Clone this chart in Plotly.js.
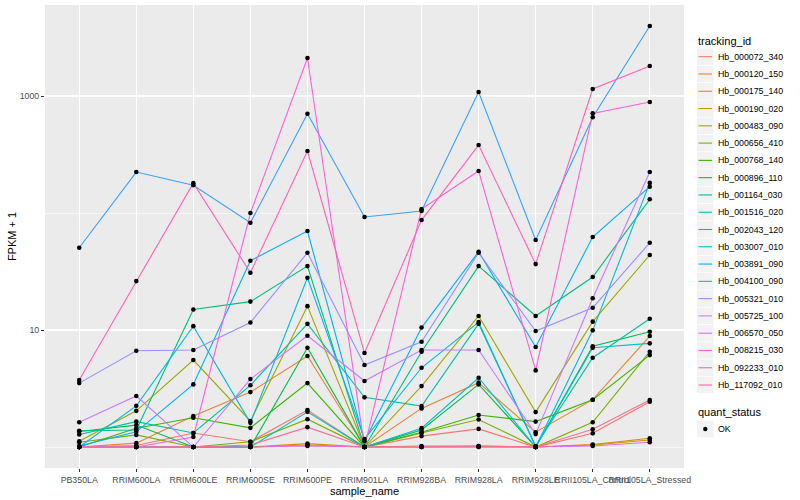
<!DOCTYPE html>
<html><head><meta charset="utf-8">
<script src="https://cdn.plot.ly/plotly-3.0.1.min.js"></script>
<style>html,body{margin:0;padding:0;background:#fff}</style>
</head><body><div id="chart" style="width:800px;height:500px"></div>
<script>
// Categories (x axis)
const sampleNames = ["PB350LA","RRIM600LA","RRIM600LE","RRIM600SE","RRIM600PE","RRIM901LA","RRIM928BA","RRIM928LA","RRIM928LE","RRII105LA_Control","RRII105LA_Stressed"];
// Series names
const trackingIds = ["Hb_000072_340","Hb_000120_150","Hb_000175_140","Hb_000190_020","Hb_000483_090","Hb_000656_410","Hb_000768_140","Hb_000896_110","Hb_001164_030","Hb_001516_020","Hb_002043_120","Hb_003007_010","Hb_003891_090","Hb_004100_090","Hb_005321_010","Hb_005725_100","Hb_006570_050","Hb_008215_030","Hb_092233_010","Hb_117092_010"];
// FPKM + 1 values, one array per tracking_id, in sampleNames order
const Hb_000072_340 = [1, 1.03, 1.32, 1.11, 2.07, 1, 1.24, 1.43, 1, 1.31, 2.44];
const Hb_000120_150 = [1, 1.08, 1.84, 2.95, 6.0, 1, 2.14, 3.55, 1.34, 2.54, 8.89];
const Hb_000175_140 = [1, 1, 1, 1, 1.07, 1, 1.02, 1.02, 1, 1.05, 1.19];
const Hb_000190_020 = [1, 1, 1, 1, 1.04, 1, 1, 1, 1, 1.04, 1.15];
const Hb_000483_090 = [1.12, 2.04, 5.54, 1.67, 16.0, 1, 3.32, 13.2, 1.99, 11.8, 43.8];
const Hb_000656_410 = [1.10, 1.27, 1, 1.11, 1.73, 1, 1.32, 1.72, 1, 1.63, 6.53];
const Hb_000768_140 = [1, 1.45, 1.78, 1.46, 3.52, 1, 1.34, 1.88, 1.65, 2.54, 6.11];
const Hb_000896_110 = [1.36, 1.54, 1, 1, 7.06, 1, 1.40, 3.43, 1, 7.26, 9.67];
const Hb_001164_030 = [1.38, 1.40, 15.0, 17.5, 35.2, 1, 6.53, 35.2, 13.2, 28.4, 131];
const Hb_001516_020 = [1.28, 1.65, 1.32, 3.37, 11.3, 2.66, 2.24, 11.3, 1.02, 5.80, 12.5];
const Hb_002043_120 = [1, 1, 1, 1, 2.00, 1, 1.45, 3.91, 1, 7.06, 7.70];
const Hb_003007_010 = [1, 2.25, 10.8, 1.61, 28.0, 1.17, 4.76, 11.7, 1, 9.94, 181];
const Hb_003891_090 = [1.02, 1.35, 3.43, 39.1, 70.2, 1.12, 10.5, 46.7, 7.16, 62.4, 168];
const Hb_004100_090 = [50.5, 224, 173, 82.6, 706, 92.5, 104, 1082, 58.8, 658, 3965];
const Hb_005321_010 = [3.52, 6.65, 6.75, 11.6, 45.8, 5.02, 7.94, 45.8, 9.80, 15.5, 55.7];
const Hb_005725_100 = [1.63, 2.73, 1, 3.81, 8.94, 3.67, 6.75, 6.75, 1.29, 18.7, 224];
const Hb_006570_050 = [1, 1, 1, 1, 1.02, 1, 1, 1, 1, 1.02, 1.10];
const Hb_008215_030 = [1, 1, 1.22, 100, 2113, 1, 108, 229, 4.52, 711, 889];
const Hb_092233_010 = [3.74, 26.2, 180, 30.9, 339, 6.36, 87.1, 381, 36.6, 1148, 1804];
const Hb_117092_010 = [1, 1, 1, 1.04, 1.48, 1, 1, 1.02, 1, 1.42, 2.52];
// Quant status label
const quantStatus = ["OK"];
// Y axis tick labels
const yTickVals = [10, 1000];
const yTickText = ["10", "1000"];

const seriesValues = [Hb_000072_340, Hb_000120_150, Hb_000175_140, Hb_000190_020, Hb_000483_090, Hb_000656_410, Hb_000768_140, Hb_000896_110, Hb_001164_030, Hb_001516_020, Hb_002043_120, Hb_003007_010, Hb_003891_090, Hb_004100_090, Hb_005321_010, Hb_005725_100, Hb_006570_050, Hb_008215_030, Hb_092233_010, Hb_117092_010];
const hueColors = ["#F8766D","#EA8331","#D89000","#C09B00","#A3A500","#7CAE00","#39B600","#00BB4E","#00BF7D","#00C1A3","#00BFC4","#00BAE0","#00B0F6","#35A2FF","#9590FF","#C77CFF","#E76BF3","#FA62DB","#FF62BC","#FF6C91"];

const FONT = "Liberation Sans, Arial, Helvetica, sans-serif";
const W = 800, H = 500, ML = 45, MR = 116, MT = 5, MB = 32;
const plotW = W - ML - MR, plotH = H - MT - MB;
const PX = p => (p - ML) / plotW;          // pixel -> paper x
const PY = p => (H - MB - p) / plotH;      // pixel -> paper y

const traces = [];
trackingIds.forEach((id, i) => {
  traces.push({
    type: "scatter", mode: "lines", name: id,
    x: sampleNames, y: seriesValues[i],
    line: {color: hueColors[i], width: 1.1},
    showlegend: false, hoverinfo: "skip"
  });
});
const px = [], py = [];
seriesValues.forEach(vals => vals.forEach((v, j) => { px.push(sampleNames[j]); py.push(v); }));
traces.push({
  type: "scatter", mode: "markers", name: quantStatus[0],
  x: px, y: py,
  marker: {color: "#000", size: 4.6, symbol: "circle"},
  showlegend: false, hoverinfo: "skip"
});

// Hand-built ggplot-style legend (keys with grey boxes)
const shapes = [], annotations = [];
const legendLeft = 697, keyW = 16.5, step = 17.28, firstY = 56.7, textX = 716.5;
annotations.push({xref: "paper", yref: "paper", x: PX(695.5), y: PY(40.7), xanchor: "left", yanchor: "middle",
  text: "tracking_id", showarrow: false, font: {size: 11, color: "#000", family: FONT}});
trackingIds.forEach((id, i) => {
  const cy = firstY + step * i;
  shapes.push({type: "rect", xref: "paper", yref: "paper", x0: PX(legendLeft), x1: PX(legendLeft + keyW),
    y0: PY(cy - keyW / 2), y1: PY(cy + keyW / 2), fillcolor: "#F2F2F2", line: {width: 0}});
  shapes.push({type: "line", xref: "paper", yref: "paper", x0: PX(legendLeft + 1.5), x1: PX(legendLeft + keyW - 1.5),
    y0: PY(cy), y1: PY(cy), line: {color: hueColors[i], width: 1.1}});
  annotations.push({xref: "paper", yref: "paper", x: PX(textX - 1), y: PY(cy), xanchor: "left", yanchor: "middle",
    text: id, showarrow: false, font: {size: 8.8, color: "#000", family: FONT}});
});
annotations.push({xref: "paper", yref: "paper", x: PX(695.5), y: PY(412.3), xanchor: "left", yanchor: "middle",
  text: "quant_status", showarrow: false, font: {size: 11, color: "#000", family: FONT}});
const okY = 429;
shapes.push({type: "rect", xref: "paper", yref: "paper", x0: PX(legendLeft), x1: PX(legendLeft + keyW),
  y0: PY(okY - keyW / 2), y1: PY(okY + keyW / 2), fillcolor: "#F2F2F2", line: {width: 0}});
shapes.push({type: "circle", xref: "paper", yref: "paper", x0: PX(703.1), x1: PX(707.5),
  y0: PY(okY - 2.2), y1: PY(okY + 2.2), fillcolor: "#000", line: {width: 0}});
annotations.push({xref: "paper", yref: "paper", x: PX(textX - 1), y: PY(okY), xanchor: "left", yanchor: "middle",
  text: quantStatus[0], showarrow: false, font: {size: 8.8, color: "#000", family: FONT}});

const layout = {
  width: W, height: H,
  margin: {l: ML, r: MR, t: MT, b: MB},
  paper_bgcolor: "#FFFFFF", plot_bgcolor: "#EBEBEB",
  font: {family: FONT, size: 8.8, color: "#4D4D4D"},
  showlegend: false,
  shapes: shapes, annotations: annotations,
  xaxis: {
    type: "category", range: [-0.6, 10.6], tickangle: 0,
    ticks: "outside", ticklen: 3, tickwidth: 1, tickcolor: "#333333",
    showgrid: true, gridcolor: "#FFFFFF", gridwidth: 1.1,
    zeroline: false, showline: false,
    tickfont: {size: 8.8, color: "#4D4D4D", family: FONT},
    title: {text: "sample_name", font: {size: 11, color: "#000", family: FONT}, standoff: 0}
  },
  yaxis: {
    type: "log", range: [-0.179, 3.778],
    tickvals: yTickVals, ticktext: yTickText,
    ticks: "outside", ticklen: 3, tickwidth: 1, tickcolor: "#333333",
    showgrid: true, gridcolor: "#FFFFFF", gridwidth: 1.1,
    minor: {tickvals: [1, 100], showgrid: true, gridcolor: "#FFFFFF", gridwidth: 0.55, ticks: ""},
    zeroline: false, showline: false,
    tickfont: {size: 8.8, color: "#4D4D4D", family: FONT},
    title: {text: "FPKM + 1", font: {size: 11, color: "#000", family: FONT}, standoff: 0}
  }
};
Plotly.newPlot("chart", traces, layout, {staticPlot: true, displayModeBar: false});
</script>
</body></html>
